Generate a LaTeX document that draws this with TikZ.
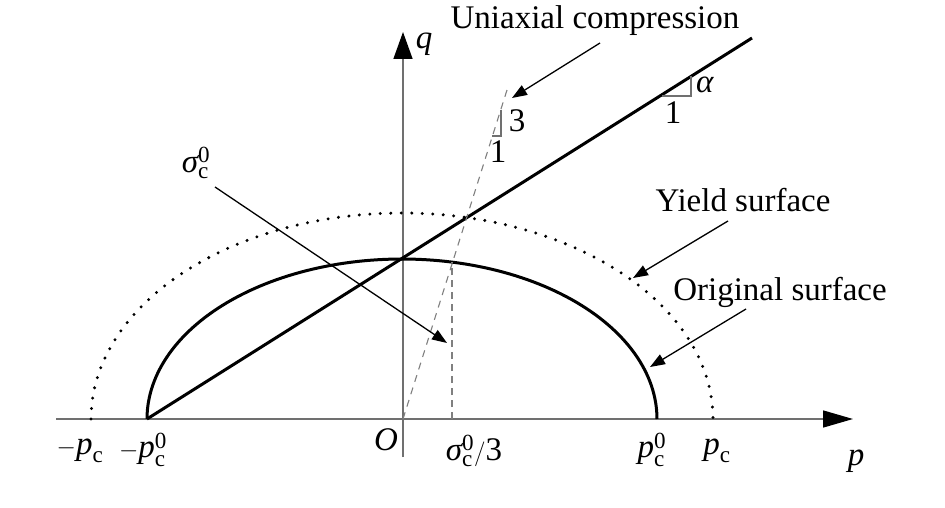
\documentclass[tikz,border=0pt]{standalone}
\usepackage{fontspec}
\usepackage{amsmath}
\setmainfont{Liberation Serif}
\usetikzlibrary{arrows.meta}
\definecolor{axisgray}{HTML}{707070}
\definecolor{dashgray}{HTML}{808080}
\begin{document}
\begin{tikzpicture}[x=1pt,y=-1pt,
  lbl/.style={font=\fontsize{33}{39}\selectfont, inner sep=0pt},
  axisline/.style={draw=axisgray, line width=1.5pt},
  surf/.style={draw=black, line width=3pt},
  yieldsurf/.style={draw=black, line width=3.3pt, line cap=round, dash pattern=on 0pt off 10.5pt},
  ann/.style={draw=black, line width=1.3pt, -{Triangle[length=15pt,width=11pt]}},
  thin/.style={draw=axisgray, line width=1.2pt},
]
\useasboundingbox (0,0) rectangle (945,508);
\fill[white] (0,0) rectangle (945,508);

% axes
\coordinate (pstart) at (56,419);
\coordinate (pend) at (853,419);
\coordinate (qstart) at (403,457);
\coordinate (qend) at (403,32);
\draw[axisline, -{Triangle[length=30pt,width=17pt,fill=black,color=black]}] (pstart) -- (pend);
\draw[axisline, -{Triangle[length=27pt,width=19pt,fill=black,color=black]}] (qstart) -- (qend);

% surfaces
\draw[surf] plot[domain=180:0, samples=120] ({402+255*cos(\x)}, {419-160*sin(\x)});
\draw[yieldsurf] plot[domain=180:0, samples=160] ({402+311*cos(\x)}, {419-206*sin(\x)});

% failure line
\coordinate (lA) at (147,419);
\coordinate (lB) at (752,38);
\draw[surf] (lA) -- (lB);

% alpha triangle
\coordinate (a1) at (662,96);
\coordinate (a2) at (691,96);
\coordinate (a3) at (691,76);
\draw[thin] (a1) -- (a2) -- (a3);

% uniaxial compression dashed path
\coordinate (O) at (403,419);
\coordinate (U) at (507,90);
\draw[draw=dashgray, line width=1.1pt, dash pattern=on 7pt off 6pt] (O) -- (U);
\coordinate (t1) at (501,110);
\coordinate (t2) at (501,136);
\coordinate (t3) at (492,136);
\draw[thin] (t1) -- (t2) -- (t3);

% sigma_c/3 vertical dashed
\coordinate (s0) at (452,419);
\coordinate (s1) at (452,262);
\draw[draw=dashgray, line width=2.6pt, dash pattern=on 7pt off 5pt] (s0) -- (s1);

% labels
\node[lbl] (uc) at (595,21) {Uniaxial compression};
\node[lbl] (ql) at (424,44) {$\textit{q}$};
\node[lbl] (al) at (705,85) {\textit{α}};
\node[lbl] (one1) at (673,113) {1};
\node[lbl] (three) at (517,121) {3};
\node[lbl] (one2) at (498,152) {1};
\node[lbl] (sig) at (196,163) {$\textit{σ}^{\text{0}}_{\text{c}}$};
\node[lbl] (ys) at (743,200) {Yield surface};
\node[lbl] (os) at (780,292) {Original surface};
\node[lbl] (mpc) at (80,451) {$-\textit{p}_{\text{c}}$};
\node[lbl] (mpc0) at (143,450) {$-\textit{p}^{\text{0}}_{\text{c}}$};
\node[lbl] (ol) at (386,440) {\textit{O}};
\node[lbl] (s3) at (474,451) {$\textit{σ}^{\text{0}}_{\text{c}}/\text{3}$};
\node[lbl] (pc0) at (652,450) {$\textit{p}^{\text{0}}_{\text{c}}$};
\node[lbl] (pc) at (717,451) {$\textit{p}_{\text{c}}$};
\node[lbl] (pl) at (856,461) {\textit{p}};

% annotation arrows
\coordinate (ucs) at (600,43);
\coordinate (uct) at (512,98);
\draw[ann] (ucs) -- (uct);
\coordinate (sgs) at (215,187);
\coordinate (sgt) at (447,343);
\draw[ann] (sgs) -- (sgt);
\coordinate (yss) at (728,221);
\coordinate (yst) at (633,278);
\draw[ann] (yss) -- (yst);
\coordinate (oss) at (746,309);
\coordinate (ost) at (650,367);
\draw[ann] (oss) -- (ost);
\end{tikzpicture}
\end{document}
